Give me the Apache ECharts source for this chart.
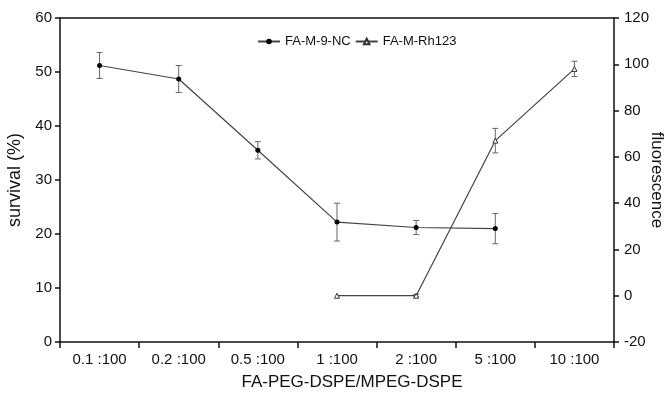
<!DOCTYPE html>
<html>
<head>
<meta charset="utf-8">
<script src="https://cdn.jsdelivr.net/npm/echarts@6/dist/echarts.min.js"></script>
<style>
  html, body { margin: 0; padding: 0; background: #fff; }
  #chart { width: 665px; height: 397px; }
</style>
</head>
<body>
<div id="chart"></div>
<script>
// ratios on the x axis
const categories = ['0.1 :100', '0.2 :100', '0.5 :100', '1 :100', '2 :100', '5 :100', '10 :100'];

// survival (%) - left axis
const survival = [51.2, 48.7, 35.5, 22.2, 21.2, 21.0, null];
const survivalErr = [2.4, 2.5, 1.6, 3.5, 1.3, 2.8, null];

// fluorescence - right axis
const rh123 = [null, null, null, 0, 0, 67, 98];
const rh123Err = [null, null, null, 0, 0.6, 5.3, 3.3];

const leftTicks = { min: 0, max: 60, interval: 10 };
const rightTicks = { min: -20, max: 120, interval: 20 };

const FONT = 'Liberation Sans, Arial, sans-serif';

function errData(vals, errs) {
  const out = [];
  vals.forEach((v, i) => {
    if (v != null && errs[i]) out.push([i, v - errs[i], v + errs[i]]);
  });
  return out;
}

function errSeries(name, data, yIdx) {
  return {
    name: name,
    type: 'custom',
    yAxisIndex: yIdx,
    silent: true,
    z: 1,
    data: data,
    renderItem: function (params, api) {
      const lo = api.coord([api.value(0), api.value(1)]);
      const hi = api.coord([api.value(0), api.value(2)]);
      const cap = 3;
      const style = { stroke: '#666', lineWidth: 1, fill: null };
      return {
        type: 'group',
        children: [
          { type: 'line', shape: { x1: lo[0], y1: lo[1], x2: hi[0], y2: hi[1] }, style: style },
          { type: 'line', shape: { x1: lo[0] - cap, y1: lo[1], x2: lo[0] + cap, y2: lo[1] }, style: style },
          { type: 'line', shape: { x1: hi[0] - cap, y1: hi[1], x2: hi[0] + cap, y2: hi[1] }, style: style }
        ]
      };
    }
  };
}

const chart = echarts.init(document.getElementById('chart'), null, { renderer: 'canvas' });

const option = {
  animation: false,
  backgroundColor: '#fff',
  textStyle: { fontFamily: FONT },
  grid: { left: 60, right: 51, top: 18, bottom: 55, show: false, containLabel: false, outerBoundsMode: 'none' },
  legend: {
    left: 252,
    top: 30,
    itemWidth: 22,
    itemHeight: 7,
    itemGap: 4,
    textStyle: { fontSize: 13, color: '#111', fontFamily: FONT },
    data: ['FA-M-9-NC', 'FA-M-Rh123']
  },
  xAxis: {
    type: 'category',
    data: categories,
    boundaryGap: true,
    name: 'FA-PEG-DSPE/MPEG-DSPE',
    nameLocation: 'middle',
    nameGap: 32,
    nameMoveOverlap: false,
    nameTextStyle: { fontSize: 17, color: '#111', padding: [0, 0, 0, 30] },
    axisLine: { lineStyle: { color: '#111', width: 1.5 } },
    axisTick: { show: true, length: 6, alignWithLabel: false, lineStyle: { color: '#111', width: 1.5 } },
    axisLabel: { fontSize: 15, color: '#111', margin: 10 },
    splitLine: { show: false }
  },
  yAxis: [
    {
      type: 'value',
      min: leftTicks.min, max: leftTicks.max, interval: leftTicks.interval,
      name: 'survival (%)',
      nameLocation: 'middle',
      nameGap: 32,
      nameTextStyle: { fontSize: 18, color: '#111' },
      axisLine: { show: true, lineStyle: { color: '#111', width: 1.5 } },
      axisTick: { show: true, length: 5, lineStyle: { color: '#111', width: 1.5 } },
      axisLabel: { fontSize: 15, color: '#111', margin: 8 },
      splitLine: { show: false }
    },
    {
      type: 'value',
      position: 'right',
      min: rightTicks.min, max: rightTicks.max, interval: rightTicks.interval,
      name: 'fluorescence',
      nameLocation: 'middle',
      nameGap: 34,
      nameRotate: -90,
      nameMoveOverlap: false,
      nameTextStyle: { fontSize: 17, color: '#111' },
      axisLine: { show: true, lineStyle: { color: '#111', width: 1.5 } },
      axisTick: { show: true, length: 5, lineStyle: { color: '#111', width: 1.5 } },
      axisLabel: { fontSize: 15, color: '#111', margin: 10 },
      splitLine: { show: false }
    }
  ],
  graphic: [
    { type: 'line', shape: { x1: 60, y1: 18, x2: 614, y2: 18 }, style: { stroke: '#111', lineWidth: 1.5 }, silent: true }
  ],
  series: [
    errSeries('err-survival', errData(survival, survivalErr), 0),
    errSeries('err-rh123', errData(rh123, rh123Err), 1),
    {
      name: 'FA-M-9-NC',
      type: 'line',
      yAxisIndex: 0,
      data: survival,
      symbol: 'circle',
      symbolSize: 5,
      itemStyle: { color: '#000' },
      lineStyle: { color: '#444', width: 1.2 },
      z: 3
    },
    {
      name: 'FA-M-Rh123',
      type: 'line',
      yAxisIndex: 1,
      data: rh123,
      symbol: 'triangle',
      symbolSize: 5,
      itemStyle: { color: '#fff', borderColor: '#333', borderWidth: 1 },
      lineStyle: { color: '#444', width: 1.2 },
      z: 3
    }
  ]
};

chart.setOption(option);
</script>
</body>
</html>
